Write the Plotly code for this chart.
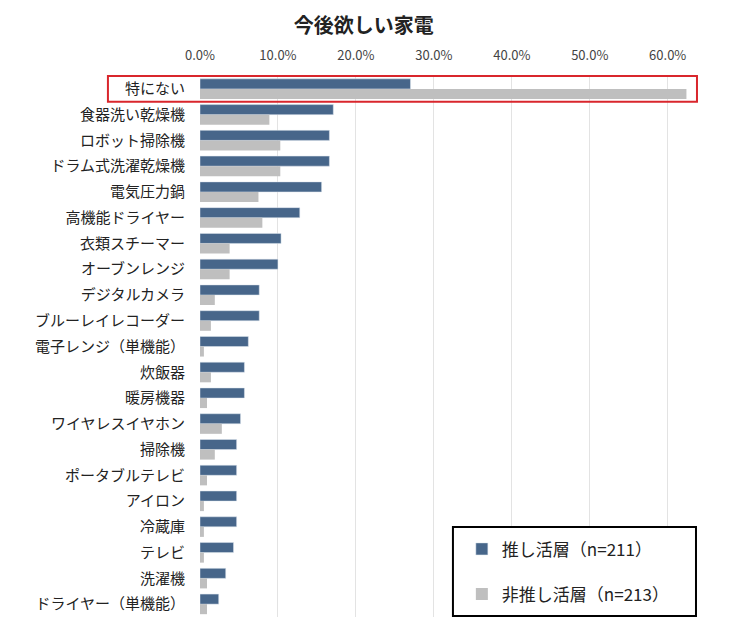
import plotly.graph_objects as go

categories = [
    "特にない", "食器洗い乾燥機", "ロボット掃除機", "ドラム式洗濯乾燥機", "電気圧力鍋",
    "高機能ドライヤー", "衣類スチーマー", "オーブンレンジ", "デジタルカメラ",
    "ブルーレイレコーダー", "電子レンジ（単機能）", "炊飯器", "暖房機器",
    "ワイヤレスイヤホン", "掃除機", "ポータブルテレビ", "アイロン", "冷蔵庫",
    "テレビ", "洗濯機", "ドライヤー（単機能）",
]
oshi = [27.0, 17.1, 16.6, 16.6, 15.6, 12.8, 10.4, 10.0, 7.6, 7.6, 6.2,
        5.7, 5.7, 5.2, 4.7, 4.7, 4.7, 4.7, 4.3, 3.3, 2.4]
non_oshi = [62.4, 8.9, 10.3, 10.3, 7.5, 8.0, 3.8, 3.8, 1.9, 1.4, 0.5,
            1.4, 0.9, 2.8, 1.9, 0.9, 0.5, 0.5, 0.5, 0.9, 0.9]
series_names = ["推し活層（n=211）", "非推し活層（n=213）"]
tick_vals = [0, 0.1, 0.2, 0.3, 0.4, 0.5, 0.6]

font = "Noto Sans CJK JP, Noto Sans, sans-serif"

fig = go.Figure()
fig.add_trace(go.Bar(
    y=categories, x=[v / 100 for v in oshi], orientation="h",
    name=series_names[0], marker=dict(color="#47668a", line=dict(color="#dfe6ee", width=0.5)),
    legendgroup="a",
))
fig.add_trace(go.Bar(
    y=categories, x=[v / 100 for v in non_oshi], orientation="h",
    name=series_names[1], marker=dict(color="#bfbfbf", line=dict(width=0)),
    legendgroup="b",
))

# highlight box around the first row
fig.add_shape(type="rect", xref="paper", yref="y",
              x0=-0.186, x1=1.004, y0=-0.5, y1=0.5,
              line=dict(color="#d9262c", width=2), fillcolor="rgba(0,0,0,0)")
# legend frame
fig.add_shape(type="rect", xref="paper", yref="paper",
              x0=0.511, x1=1.002, y0=0.002, y1=0.166,
              line=dict(color="#000000", width=2), fillcolor="white", layer="above")

# page body adds an 8px offset, margins compensate for it
fig.update_layout(
    width=735, height=635,
    margin=dict(l=192, r=48, t=67, b=26),
    paper_bgcolor="white", plot_bgcolor="white",
    title=dict(text="<b>今後欲しい家電</b>", x=0.484, xanchor="center", y=0.972, yanchor="middle",
               font=dict(family=font, size=20, color="#222")),
    barmode="group", bargap=0.22, bargroupgap=0,
    font=dict(family=font, color="#333"),
    showlegend=True,
    legend=dict(x=0.529, xanchor="left", y=0.158, yanchor="top",
                bgcolor="rgba(0,0,0,0)", borderwidth=0, itemwidth=30,
                font=dict(family=font, size=17, color="#222"),
                traceorder="grouped", tracegroupgap=20),
)
fig.update_xaxes(
    side="top", range=[0, 0.635], tickvals=tick_vals, tickformat=".1%",
    showgrid=True, gridcolor="#e3e3e3", gridwidth=1, zeroline=False,
    showline=False, ticks="", tickfont=dict(size=13, color="#444"),
    ticklabelstandoff=11, automargin=False,
)
fig.update_yaxes(
    autorange="reversed", showgrid=False, ticks="", ticklen=0,
    tickfont=dict(size=15, color="#222"), ticklabelstandoff=14,
    automargin=False,
)

fig.write_html("out.html")
